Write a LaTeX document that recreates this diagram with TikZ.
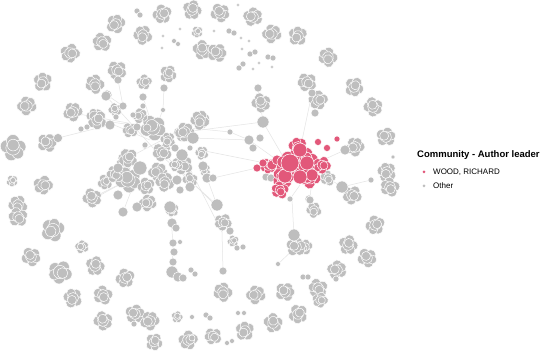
\documentclass[tikz,border=0pt]{standalone}
\usepackage{fontspec}
\setmainfont{Liberation Sans}
\definecolor{nodegray}{RGB}{190,190,190}
\definecolor{wood}{RGB}{226,88,122}
\definecolor{linkgray}{RGB}{228,228,228}
\tikzset{
  gnode/.style={fill=nodegray,draw=white,line width=0.5pt},
  pnode/.style={fill=wood,draw=white,line width=0.5pt},
  link/.style={draw=linkgray,line width=0.5pt},
  pics/blob/.style={code={
    \foreach \u/\v/\r in {-4/-3/5, 3/-4/5, 5/2/5, -1/5/5,
                          -5/2/4.5, 0/0/5.5, 2/1/4.5}
      \draw[#1] (\u,\v) circle[radius=\r];
  }}
}
\begin{document}
\begin{tikzpicture}[x=1pt,y=-1pt]
  \useasboundingbox[fill=white] (0,0) rectangle (550,352);
  % links
  \foreach \a/\b/\c/\d in {106/96/155/150, 95/117/150/140, 73/113/128/123,
      58/138/110/125, 47/143/58/138, 143/97/152/125, 163/110/158/122,
      118/80/123/106, 164/88/163/110, 107/95/123/106, 190/128/230/132,
      230/132/249/140, 213/178/257/168, 183/155/222/232, 222/232/223/271,
      294/235/292/200, 300/185/290/199, 263/122/285/160, 258/88/263/122,
      342/187/371/180, 342/187/328/178, 296/247/278/264, 173/243/172/272,
      200/150/275/165, 128/180/95/198, 170/207/173/243, 217/205/207/178,
      312/93/300/150, 249/140/277/160, 310/200/312/175, 345/150/323/160,
      155/150/217/205, 140/168/123/212, 193/138/249/140, 97/120/153/128,
      128/158/200/120, 162/152/215/205, 92/198/128/180, 185/132/263/122}
    \draw[link] (\a,\b) -- (\c,\d);
  % outer blobs
  \foreach \x/\y/\s [count=\i] in {162/14/1, 192/10/1, 220/13/1, 253/17/1,
      116/24/1, 143/35/1, 102/42/1, 70/53/1, 197/32/0.6, 202/50/1, 217/53/1,
      272/34/1, 298/36/1, 328/57/1, 307/82/1, 318/100/1, 354/87/1, 373/107/1,
      386/137/1, 355/147/1, 387/172/1, 390/187/1, 352/195/1, 375/225/1,
      348/245/1, 367/258/1, 337/270/1, 305/247/0.8, 314/210/0.8, 318/288/1,
      320/300/0.8, 298/314/1, 273/323/1, 285/292/1, 256/295/1, 245/331/1,
      223/292/1, 213/336/0.9, 188/340/1, 154/342/0.9, 103/321/1, 135/314/1,
      150/321/1, 73/298/1, 103/295/1, 60/272/1.2, 125/278/1, 95/266/1,
      31/257/1, 82/247/0.7, 53/230/1.2, 18/205/1, 18/217/1, 43/185/1,
      12/181/0.6, 13/148/1.3, 47/143/1, 27/106/1, 43/82/1, 95/84/1, 117/70/1,
      144/82/0.8, 168/74/0.9, 261/103/1, 296/247/1, 73/112/1, 95/117/0.9,
      328/178/0.8, 223/222/0.9, 233/241/0.6, 177/317/0.6, 125/162/0.9,
      183/133/0.9, 201/120/0.9}
    \pic[scale=\s,rotate=47*\i] at (\x,\y) {blob=gnode};
  % main community
  \foreach \x/\y/\s [count=\i] in {97/120/1, 153/128/1.3, 185/132/1,
      200/120/1, 162/152/1, 128/158/1, 128/180/1.3, 158/172/1, 165/182/1,
      183/165/1, 105/182/0.8, 92/198/1, 148/203/0.9, 202/153/0.7,
      130/130/0.8, 172/210/0.7, 115/110/0.7, 140/116/0.8, 168/140/0.8,
      115/174/0.9, 146/186/0.9, 190/180/0.8, 176/165/0.7, 205/170/0.6}
    \pic[scale=\s,rotate=71*\i] at (\x,\y) {blob=gnode};
  % single nodes
  \foreach \x/\y/\r in {238/5/1.8, 214/31/1.8, 229/31/3, 234/33/3, 241/38/1.8,
      249/41/1.8, 163/36/1.8, 180/29/1.8, 162/48/1.8, 174/41/2.5, 178/44/2.5,
      242/49/1.8, 250/54/3, 255/52/3, 268/57/3, 273/58/3, 259/63/1.8,
      243/64/3, 239/68/3, 253/69/1.8, 272/67/1.8, 137/11/3, 140/15/3,
      258/88/4, 312/93/4, 315/113/4, 58/138/4.5, 118/80/4, 164/88/4,
      107/95/5, 393/157/2, 371/180/3, 345/150/5, 342/187/6, 309/199/4,
      278/264/2.5, 336/279/3, 303/277/3, 308/277/3, 206/315/3, 210/318/3,
      192/317/2.5, 238/313/2.5, 244/313/2.5, 227/343/2.5, 232/341/2.5,
      192/338/3, 180/242/2.5, 191/270/3, 195/274/3, 134/324/3, 81/129/3,
      87/127/3, 294/235/6, 223/271/4, 263/122/6, 260/138/4, 249/140/5,
      253/148/4, 230/132/3, 266/177/4, 271/178/4, 290/199/3, 310/200/4,
      106/96/5, 123/106/4, 133/115/3, 116/117/3, 110/125/5,
      137/127/4, 147/128/4, 145/146/3, 143/97/4, 143/106/3,
      163/110/2.5, 193/138/6, 175/148/4, 182/155/6, 203/166/5, 207/178/5,
      213/178/4, 190/187/5, 177/180/5, 180/190/4, 140/168/7, 118/168/5,
      118/195/5, 137/207/5, 123/212/5, 170/207/6, 217/205/6,
      230/231/4, 172/223/5, 176/228/4, 173/243/4, 174/252/4, 173/262/4,
      172/272/6, 178/277/5, 183/278/4, 237/248/3, 243/247/3, 145/145/3,
      190/148/3}
    \draw[gnode] (\x,\y) circle[radius=\r];
  % WOOD, RICHARD community
  \foreach \x/\y/\s [count=\i] in {290/165/1.4, 306/160/1.2, 283/178/1.1,
      310/178/1.1, 298/147/1, 280/190/0.9, 322/165/0.9, 268/166/0.8}
    \pic[scale=\s,rotate=53*\i] at (\x,\y) {blob=pnode};
  \foreach \x/\y/\r in {257/168/4, 263/163/4, 272/165/5, 277/160/5,
      283/162/6, 300/150/7, 307/163/7, 312/175/6, 285/176/7, 300/177/7,
      290/163/9, 318/142/3.5, 327/148/3.5, 337/139/3}
    \draw[pnode] (\x,\y) circle[radius=\r];
  % legend
  \node[anchor=west,inner sep=0pt,font=\bfseries\fontsize{9.5}{11}\selectfont]
    (legtitle) at (417,155) {Community - Author leader};
  \fill[wood] (424,172) circle[radius=1.5];
  \node[anchor=west,inner sep=0pt,font=\fontsize{8}{10}\selectfont]
    (legwood) at (433,172) {WOOD, RICHARD};
  \fill[nodegray] (424,186) circle[radius=1.5];
  \node[anchor=west,inner sep=0pt,font=\fontsize{8}{10}\selectfont]
    (legother) at (433,186) {Other};
\end{tikzpicture}
\end{document}
